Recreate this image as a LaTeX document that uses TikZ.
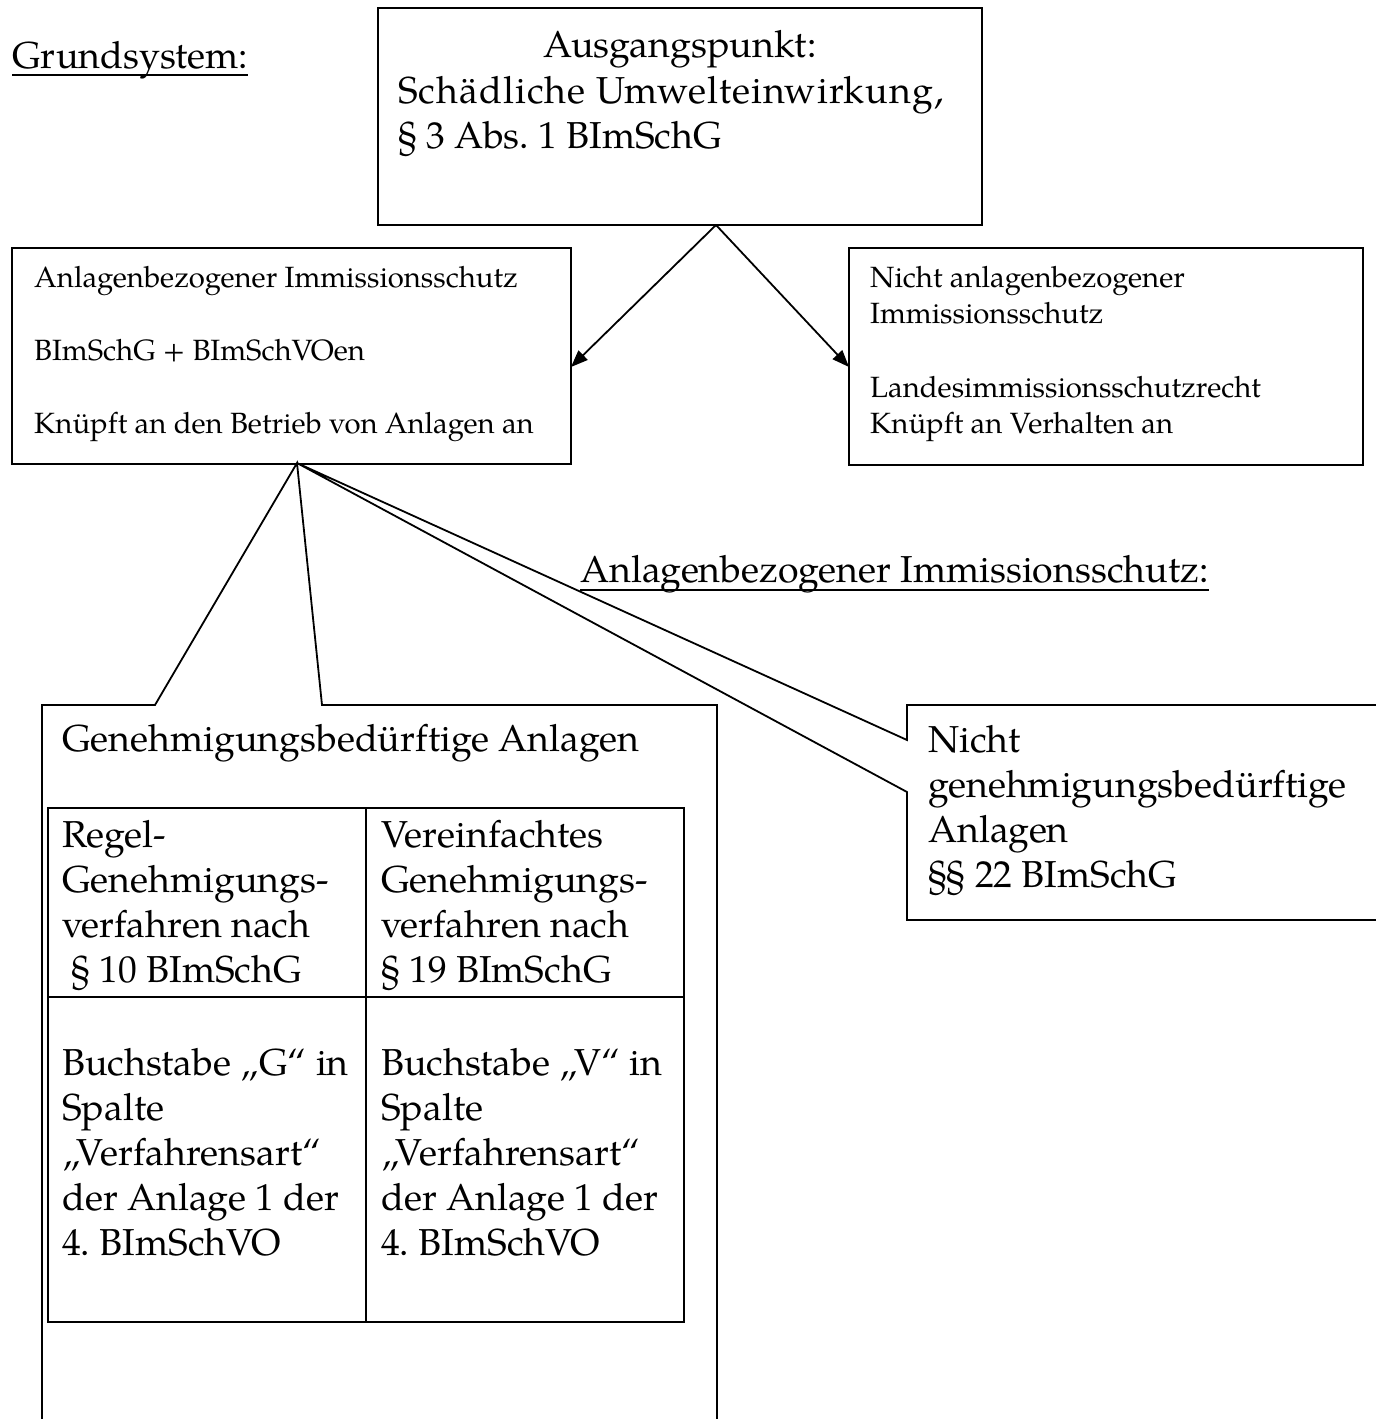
\documentclass[tikz,border=0pt]{standalone}
\usepackage{fontspec}
\setmainfont{TeX Gyre Pagella}
\usetikzlibrary{arrows.meta,calc}

\begin{document}
\frenchspacing
\begin{tikzpicture}[x=1pt,y=-1pt,
  frame/.style={draw, line width=2pt, inner sep=0pt, outer sep=0pt, anchor=north west},
  conn/.style={line width=1.8pt, line join=miter},
  arr/.style={conn, -{Triangle[length=17pt,width=13pt]}},
  big/.style={font=\fontsize{37.5}{45}\selectfont},
  small/.style={font=\fontsize{29.3}{36}\selectfont},
  txt/.style={inner sep=0pt, anchor=base west},
  uline/.style={line width=2pt}]

\useasboundingbox (0,0) rectangle (1376,1419);
\clip (0,0) rectangle (1376,1419);

% heading, upper left
\node[txt, big] (head1) at (12,68) {Grundsystem:};
\draw[uline] ($(head1.base west)+(0,7)$) -- ($(head1.base east)+(0,7)$);

% starting point
\node[frame, minimum width=604pt, minimum height=217pt] (start) at (378,8) {};
\node[txt, big, anchor=base] (s1) at (680,57) {Ausgangspunkt:};
\node[txt, big] (s2) at (398,103) {\addfontfeature{LetterSpace=2.8}Schädliche Umwelteinwirkung,};
\node[txt, big] (s3) at (398,148) {§ 3 Abs. 1 BImSchG};
\coordinate (split) at (716,225);

% plant-related protection
\node[frame, minimum width=559pt, minimum height=216pt] (plant) at (12,248) {};
\node[txt, small] (p1) at (34,287) {Anlagenbezogener Immissionsschutz};
\node[txt, small] (p2) at (34,360) {BImSchG + BImSchVOen};
\node[txt, small] (p3) at (34,433) {Knüpft an den Betrieb von Anlagen an};

% non-plant-related protection
\node[frame, minimum width=514pt, minimum height=217pt] (other) at (849,248) {};
\node[txt, small, align=left] (o1) at (870,287)
  {\begin{tabular}[t]{@{}l@{}}Nicht anlagenbezogener\\ Immissionsschutz\end{tabular}};
\node[txt, small, align=left] (o2) at (870,397)
  {\begin{tabular}[t]{@{}l@{}}Landesimmissionsschutzrecht\\ Knüpft an Verhalten an\end{tabular}};

\draw[arr] (split) -- (plant.east |- 0,367);
\draw[arr] (split) -- (other.west |- 0,367);

% second heading
\node[txt, big] (head2) at (580,582) {Anlagenbezogener Immissionsschutz:};
\draw[uline] ($(head2.base west)+(0,8)$) -- ($(head2.base east)+(0,8)$);

% fan point below the plant box
\coordinate (fan) at (297,463);

% callout: installations requiring a permit
\draw[conn] (42,1440) -- (42,705) -- (155,705) -- (fan) -- (322,705) -- (717,705) -- (717,1440);
\node[txt, big] (g0) at (62,751) {Genehmigungsbedürftige Anlagen};

% table of procedures
\node[frame, minimum width=636pt, minimum height=514pt] (tab) at (48,808) {};
\draw[line width=2pt] (tab.north west) ++(318,0) coordinate (colx) -- (colx |- tab.south);
\draw[line width=2pt] (tab.north west) ++(0,189) coordinate (rowy) -- (rowy -| tab.east);

\node[txt, big] (c11) at (62,847)
  {\begin{tabular}[t]{@{}l@{}}Regel-\\ Genehmigungs-\\ verfahren nach\\ \ § 10 BImSchG\end{tabular}};
\node[txt, big] (c12) at (381,847)
  {\begin{tabular}[t]{@{}l@{}}Vereinfachtes\\ Genehmigungs-\\ verfahren nach\\ § 19 BImSchG\end{tabular}};
\node[txt, big] (c21) at (62,1075)
  {\begin{tabular}[t]{@{}l@{}}Buchstabe „G“ in\\ Spalte\\ „Verfahrensart“\\ der Anlage 1 der\\ 4. BImSchVO\end{tabular}};
\node[txt, big] (c22) at (381,1075)
  {\begin{tabular}[t]{@{}l@{}}Buchstabe „V“ in\\ Spalte\\ „Verfahrensart“\\ der Anlage 1 der\\ 4. BImSchVO\end{tabular}};

% callout: installations not requiring a permit
\draw[conn] (1400,705) -- (907,705) -- (907,740) -- (fan) -- (907,792) -- (907,920) -- (1400,920);
\node[txt, big] (n1) at (928,752)
  {\begin{tabular}[t]{@{}l@{}}Nicht\\ genehmigungsbedürftige\\ Anlagen\\ §§ 22 BImSchG\end{tabular}};

\end{tikzpicture}
\end{document}
